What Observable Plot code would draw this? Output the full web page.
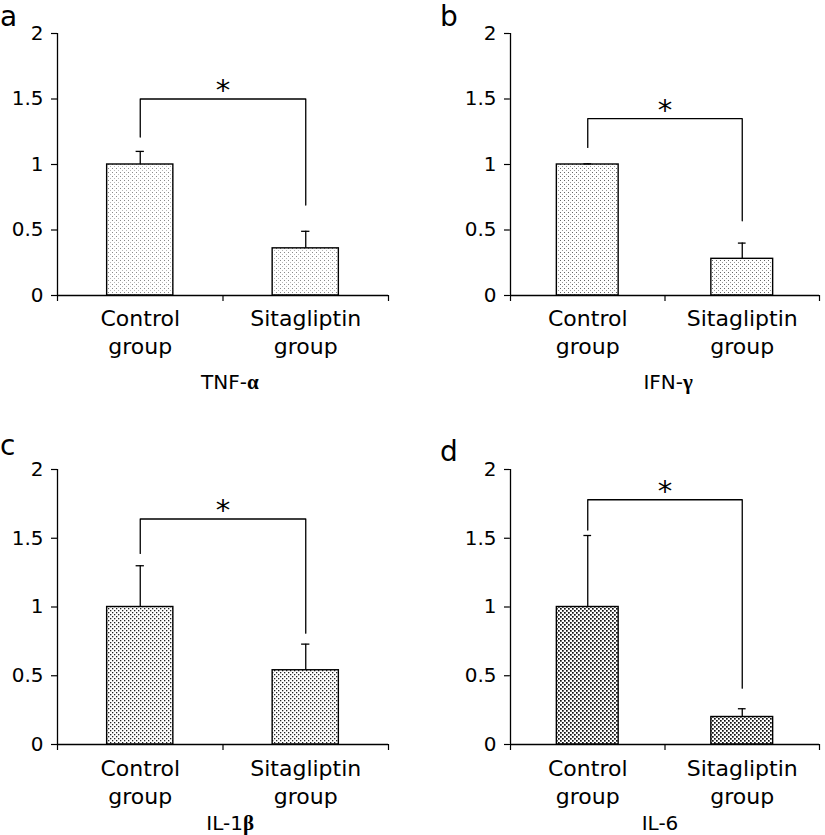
<!DOCTYPE html>
<html><head><meta charset="utf-8">
<script src="https://cdn.jsdelivr.net/npm/d3@7"></script>
<script src="https://cdn.jsdelivr.net/npm/@observablehq/plot@0.6"></script>
<style>
body{margin:0;background:#fff;}
#wrap{position:relative;width:825px;height:835px;overflow:hidden;font-family:"DejaVu Sans",Verdana,sans-serif;color:#000;}
.panel{position:absolute;}
.letter{position:absolute;font-size:28px;line-height:1.1;font-family:"DejaVu Sans",sans-serif;}
</style></head><body>
<svg width="0" height="0" style="position:absolute">
<defs>
 <pattern id="pa" width="4" height="4" patternUnits="userSpaceOnUse"><rect width="4" height="4" fill="#fff"/><rect x="0" y="0" width="1" height="1" fill="#8a8a8a"/><rect x="2" y="2" width="1" height="1" fill="#b8b8b8"/></pattern>
 <pattern id="pb" width="4" height="4" patternUnits="userSpaceOnUse"><rect width="4" height="4" fill="#fff"/><rect x="0" y="0" width="1" height="1" fill="#666"/><rect x="2" y="2" width="1" height="1" fill="#999"/></pattern>
 <pattern id="pc" width="4" height="4" patternUnits="userSpaceOnUse"><rect width="4" height="4" fill="#fff"/><rect x="0" y="0" width="1.3" height="1.3" fill="#222"/><rect x="2" y="2" width="1.3" height="1.3" fill="#222"/></pattern>
 <pattern id="pd" width="4" height="4" patternUnits="userSpaceOnUse"><rect width="4" height="4" fill="#fff"/><rect x="0" y="0" width="1.7" height="1.7" fill="#111"/><rect x="2" y="2" width="1.7" height="1.7" fill="#111"/></pattern>
</defs></svg>
<div id="wrap"></div>
<script>
// ---- data ----
const categories = ["Control\ngroup", "Sitagliptin\ngroup"];
const yTicks = [0, 0.5, 1, 1.5, 2];
const yTickLabels = ["0", "0.5", "1", "1.5", "2"];
const panelLetters = ["a", "b", "c", "d"];
const titleMain = ["TNF-", "IFN-", "IL-1", "IL-6"];
const titleGreek = ["\u03b1", "\u03b3", "\u03b2", ""];
const meanTNF = [1.0, 0.36];
const errTNF = [0.10, 0.13];
const meanIFN = [1.0, 0.28];
const errIFN = [0.005, 0.12];
const meanIL1 = [1.0, 0.54];
const errIL1 = [0.30, 0.19];
const meanIL6 = [1.0, 0.20];
const errIL6 = [0.52, 0.06];
// significance brackets: [left end, top, right end]
const bracketTNF = [1.21, 1.50, 0.69];
const bracketIFN = [1.13, 1.35, 0.57];
const bracketIL1 = [1.39, 1.64, 0.81];
const bracketIL6 = [1.56, 1.78, 0.41];
const sigMark = "*";

// ---- layout ----
const layouts = [
  {left: 0,   top: 0,   width: 412, height: 440, ml: 57, mr: 24, mt: 33, mb: 145, labelDy: 10, titleDy: 87, letterX: 0,   letterTop: 2},
  {left: 420, top: 0,   width: 405, height: 440, ml: 90, mr: 6,  mt: 33, mb: 145, labelDy: 10, titleDy: 87, letterX: 440, letterTop: 2},
  {left: 0,   top: 440, width: 412, height: 395, ml: 57, mr: 24, mt: 29, mb: 91,  labelDy: 11, titleDy: 79, letterX: 0,   letterTop: 431},
  {left: 420, top: 440, width: 405, height: 395, ml: 90, mr: 6,  mt: 29, mb: 91,  labelDy: 11, titleDy: 79, letterX: 440, letterTop: 437}
];
const titleDx = [24, 18, 20, -5];
const fills = ["url(#pa)", "url(#pb)", "url(#pc)", "url(#pd)"];
const means = [meanTNF, meanIFN, meanIL1, meanIL6];
const errs = [errTNF, errIFN, errIL1, errIL6];
const brackets = [bracketTNF, bracketIFN, bracketIL1, bracketIL6];

const wrap = document.getElementById("wrap");

function panel(k) {
  const L = layouts[k];
  const rows = categories.map((c, i) => ({i, label: c, mean: means[k][i], err: errs[k][i]}));
  const br = brackets[k];
  const bracketPts = [
    {x: 0.5, y: br[0]}, {x: 0.5, y: br[1]}, {x: 1.5, y: br[1]}, {x: 1.5, y: br[2]}
  ];
  const greek = titleGreek[k];
  const marks = [
    Plot.rectY(rows, {x1: d => d.i + 0.3, x2: d => d.i + 0.7, y1: 0, y2: "mean", fill: fills[k], stroke: "#000", strokeWidth: 1.4}),
    Plot.ruleX(rows, {x: d => d.i + 0.5, y1: "mean", y2: d => d.mean + d.err, stroke: "#000", strokeWidth: 1.3}),
    Plot.ruleY(rows, {x1: d => d.i + 0.475, x2: d => d.i + 0.525, y: d => d.mean + d.err, stroke: "#000", strokeWidth: 1.3}),
    Plot.line(bracketPts, {x: "x", y: "y", stroke: "#000", strokeWidth: 1.3}),
    Plot.text([sigMark], {x: 1, y: br[1], fontSize: 29, lineAnchor: "middle", dy: -8}),
    Plot.axisY({ticks: yTicks, tickFormat: d => yTickLabels[yTicks.indexOf(d)], tickSize: 6, tickPadding: 8, fontSize: 20, label: null, stroke: "#000", strokeWidth: 1.2}),
    Plot.axisX({ticks: [0, 1, 2], tickFormat: () => "", tickSize: 6, label: null, stroke: "#000", strokeWidth: 1.2}),
    Plot.ruleX([0], {y1: 0, y2: 2, stroke: "#000", strokeWidth: 1.3}),
    Plot.ruleY([0], {x1: 0, x2: 2, stroke: "#000", strokeWidth: 1.3}),
    Plot.text(rows, {x: d => d.i + 0.5, y: 0, text: "label", fontSize: 22, lineAnchor: "top", lineHeight: 1.3, dy: L.labelDy}),
    Plot.text([titleMain[k]], {x: 1, y: 0, textAnchor: greek ? "end" : "middle", dx: titleDx[k], dy: L.titleDy, fontSize: 20, lineAnchor: "middle"})
  ];
  if (greek) marks.push(Plot.text([greek], {x: 1, y: 0, textAnchor: "start", dx: titleDx[k], dy: L.titleDy, fontSize: 21, fontWeight: "bold", fontFamily: "Liberation Serif", lineAnchor: "middle"}));
  const svg = Plot.plot({
    width: L.width, height: L.height,
    marginLeft: L.ml, marginRight: L.mr, marginTop: L.mt, marginBottom: L.mb,
    style: {fontFamily: "DejaVu Sans", color: "#000", background: "transparent", overflow: "visible"},
    x: {type: "linear", domain: [0, 2], axis: null},
    y: {type: "linear", domain: [0, 2], axis: null},
    marks
  });
  svg.classList.add("panel");
  svg.style.left = L.left + "px";
  svg.style.top = L.top + "px";
  svg.style.position = "absolute";
  wrap.appendChild(svg);
  const lt = document.createElement("div");
  lt.className = "letter";
  lt.textContent = panelLetters[k];
  lt.style.left = L.letterX + "px";
  lt.style.top = L.letterTop + "px";
  wrap.appendChild(lt);
}
for (let k = 0; k < 4; k++) panel(k);
</script>
</body></html>
